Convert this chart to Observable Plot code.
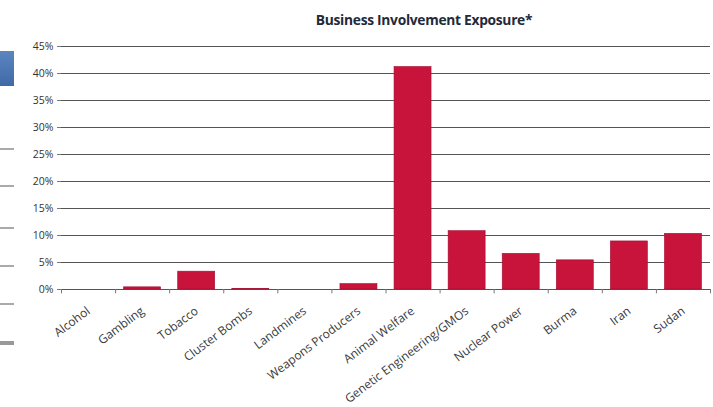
<!DOCTYPE html>
<html>
<head>
<meta charset="utf-8">
<script src="https://cdn.jsdelivr.net/npm/d3@7"></script>
<script src="https://cdn.jsdelivr.net/npm/@observablehq/plot@0.6"></script>
<style>
  html, body { margin: 0; padding: 0; background: #fff; }
  #wrap { position: relative; width: 713px; height: 407px; overflow: hidden; }
  #title { position: absolute; top: 10px; left: 294px; width: 260px; text-align: center;
           font: bold 13.8px "Open Sans", "Liberation Sans", sans-serif; color: #1f2a3a; white-space: nowrap; letter-spacing: -0.3px; }
  .deco { position: absolute; left: 0; width: 14px; }
</style>
</head>
<body>
<div id="wrap">
  <div class="deco" style="top:51px;height:35px;background:linear-gradient(#5b86c0,#3f6aa6);"></div>
  <div class="deco" style="top:148px;height:2px;background:#aaa;"></div>
  <div class="deco" style="top:185px;height:2px;background:#aaa;"></div>
  <div class="deco" style="top:227px;height:2px;background:#aaa;"></div>
  <div class="deco" style="top:265px;height:2px;background:#aaa;"></div>
  <div class="deco" style="top:303px;height:2px;background:#aaa;"></div>
  <div class="deco" style="top:341px;height:4px;background:#999;"></div>
  <div id="title">Business Involvement Exposure*</div>
  <div id="chart"></div>
</div>
<script>
const categories = ["Alcohol", "Gambling", "Tobacco", "Cluster Bombs", "Landmines", "Weapons Producers",
  "Animal Welfare", "Genetic Engineering/GMOs", "Nuclear Power", "Burma", "Iran", "Sudan"];
const exposure = [0, 0.4, 3.3, 0.1, 0, 1.0, 41.2, 10.8, 6.6, 5.4, 8.9, 10.3];
const yTicks = [0, 5, 10, 15, 20, 25, 30, 35, 40, 45];

const data = categories.map((c, i) => ({category: c, value: exposure[i]}));
const W = 713, mL = 61, mR = 3;
const step = (W - mL - mR) / categories.length;

const chart = Plot.plot({
  width: W,
  height: 407,
  marginLeft: mL,
  marginRight: mR,
  marginTop: 46,
  marginBottom: 118,
  style: {fontFamily: "'Open Sans', 'Liberation Sans', sans-serif", fontSize: "11px", color: "#333", background: "transparent"},
  x: {domain: categories, paddingInner: 0.316, paddingOuter: 0.158, round: false, label: null},
  y: {domain: [0, 45], label: null},
  marks: [
    Plot.ruleY(yTicks, {stroke: "#555", strokeWidth: 1}),
    Plot.ruleX([0], {frameAnchor: "left", y1: 0, y2: 45, stroke: "#777"}),
    Plot.barY(data, {x: "category", y: "value", fill: "#c8133b", stroke: "#a30d2f", strokeWidth: 0.6}),
    Plot.ruleX(categories, {x: d => d, y1: 0, y2: -0.8, dx: -step / 2, stroke: "#777"}),
    Plot.ruleX([categories[categories.length - 1]], {x: d => d, y1: 0, y2: -0.8, dx: step / 2, stroke: "#777"}),
    Plot.axisY(yTicks, {tickSize: 4, tickFormat: d => d + "%", stroke: "#777", fill: "#333", fontSize: 10.5, tickPadding: 4, letterSpacing: "-0.5px"}),
    Plot.axisX({tickSize: 0, tickRotate: -37, tickPadding: 20, dx: 0, fill: "#3a3a3a", fontSize: 12, letterSpacing: "-0.3px"})
  ]
});
chart.style.position = "absolute";
chart.style.left = "0";
chart.style.top = "0";
document.getElementById("chart").appendChild(chart);
</script>
</body>
</html>
